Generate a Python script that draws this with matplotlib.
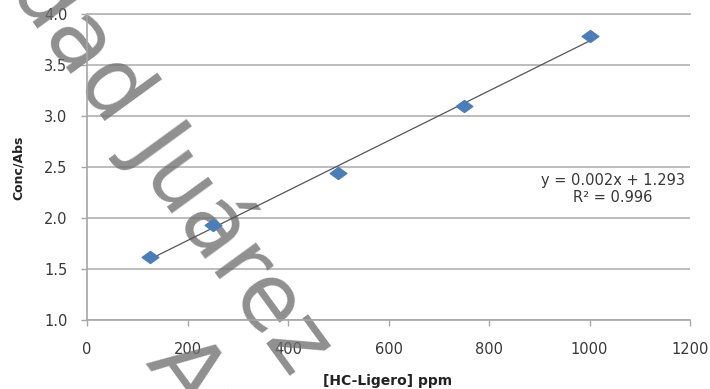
import numpy as np
import matplotlib
matplotlib.use("Agg")
import matplotlib.pyplot as plt
from matplotlib.path import Path

# ---- data ----
conc_ppm = [125, 250, 500, 750, 1000]
conc_abs = [1.62, 1.93, 2.44, 3.10, 3.78]
x_ticks = [0, 200, 400, 600, 800, 1000, 1200]
y_ticks = [1.0, 1.5, 2.0, 2.5, 3.0, 3.5, 4.0]
eq_text = "y = 0.002x + 1.293"
r2_text = "R\u00b2 = 0.996"
x_label = "[HC-Ligero] ppm"
y_label = "Conc/Abs"
watermark_1 = "dad Ju\u00e1rez"
watermark_2 = "Aut\u00f3noma"

W, H = 710, 389
plt.rcParams['font.family'] = ['DejaVu Sans']
fig = plt.figure(figsize=(W / 100, H / 100), dpi=100)
fig.patch.set_facecolor('white')

def fx(px):
    return px / W

def fy(py):
    return 1 - py / H

ax = fig.add_axes([fx(87), fy(320), fx(690) - fx(87), fy(14) - fy(320)])
ax.set_xlim(0, 1200)
ax.set_ylim(1.0, 4.0)
ax.set_xticks(x_ticks)
ax.set_yticks(y_ticks)
ax.set_yticklabels([f"{v:.1f}" for v in y_ticks])
ax.set_xticklabels([str(v) for v in x_ticks])

grid_col = '#b8b8b8'
ax.yaxis.grid(True, color=grid_col, linewidth=1.3)
ax.set_axisbelow(True)
ax.spines['right'].set_visible(False)
ax.spines['top'].set_color(grid_col)
ax.spines['top'].set_linewidth(1.3)
for s in ['left', 'bottom']:
    ax.spines[s].set_color('#a6a6a6')
    ax.spines[s].set_linewidth(1.2)
ax.tick_params(axis='y', length=4, width=1.0, color='#a6a6a6', pad=10,
               labelsize=10.5, labelcolor='#383838')
ax.tick_params(axis='x', length=4, width=1.0, color='#a6a6a6', pad=11.5,
               labelsize=10.5, labelcolor='#383838')

# trendline from least squares fit
coef = np.polyfit(conc_ppm, conc_abs, 1)
xs = np.array([min(conc_ppm), max(conc_ppm)])
ax.plot(xs, np.polyval(coef, xs), color='#555555', linewidth=0.9, zorder=2)

diamond = Path([(-1, 0), (0, 0.72), (1, 0), (0, -0.72), (-1, 0)],
               [Path.MOVETO, Path.LINETO, Path.LINETO, Path.LINETO, Path.CLOSEPOLY])
ax.plot(conc_ppm, conc_abs, linestyle='none', marker=diamond, markersize=12,
        color='#4a7ebb', markeredgecolor='#4a7ebb', zorder=3)

ax.text(fx(613), fy(180), eq_text, transform=fig.transFigure, ha='center',
        va='center', fontsize=10.5, color='#383838', zorder=4)
ax.text(fx(613), fy(198), r2_text, transform=fig.transFigure, ha='center',
        va='center', fontsize=10.5, color='#383838', zorder=4)

fig.text(fx(18), fy(168), y_label, rotation=90, ha='center', va='center',
         fontsize=9, fontweight='bold', color='#222222')
fig.text(fx(388), fy(381), x_label, ha='center', va='center',
         fontsize=10, fontweight='bold', color='#222222')

# watermark
ax.text(fx(291), fy(379), watermark_1, transform=fig.transFigure,
        rotation=-54, rotation_mode='anchor', ha='right', va='baseline',
        fontsize=66, color='#707070', alpha=0.78,
        zorder=1.5, clip_on=False)
ax.text(fx(144), fy(362), watermark_2, transform=fig.transFigure,
        rotation=-54, rotation_mode='anchor', ha='left', va='baseline',
        fontsize=66, color='#707070', alpha=0.78,
        zorder=1.5, clip_on=False)

fig.savefig('out.png', dpi=100)
